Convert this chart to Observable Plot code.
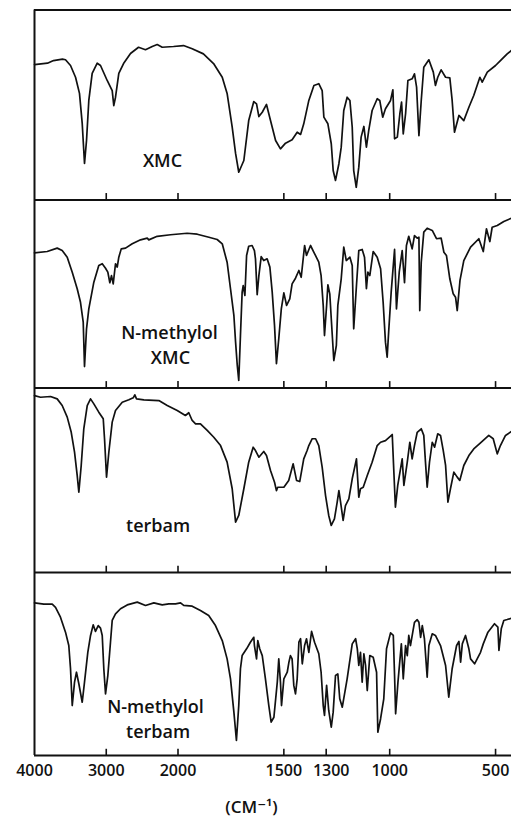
<!DOCTYPE html>
<html><head><meta charset="utf-8">
<script src="https://cdn.jsdelivr.net/npm/d3@7"></script>
<script src="https://cdn.jsdelivr.net/npm/@observablehq/plot@0.6"></script>
<style>body{margin:0;background:#fff;}</style>
</head><body><div id="chart"></div>
<script>
const panels = ["XMC", "N-methylol XMC", "terbam", "N-methylol terbam"];

// [wavenumber (cm-1), transmittance (% of panel height)]
const xmc = [[4000,71.3],[3819,72.0],[3735,73.4],[3610,74.1],[3568,73.8],[3498,70.8],[3428,64.6],[3373,56.1],[3335,40.3],[3303,19.2],[3275,31.3],[3243,52.4],[3196,66.6],[3126,72.0],[3080,70.8],[2987,62.9],[2917,57.6],[2895,49.7],[2871,54.1],[2825,66.6],[2759,71.8],[2662,77.1],[2550,80.4],[2453,79.1],[2359,80.8],[2290,81.8],[2220,80.4],[2062,80.8],[1974,81.3],[1933,79.6],[1880,76.9],[1832,71.8],[1791,64.6],[1768,56.1],[1744,38.3],[1728,24.5],[1713,14.6],[1689,20.8],[1666,41.8],[1642,51.8],[1629,50.6],[1618,43.9],[1602,46.2],[1582,50.3],[1563,41.8],[1539,31.3],[1516,26.9],[1492,29.9],[1461,31.7],[1437,35.7],[1421,34.5],[1406,40.1],[1382,52.4],[1358,60.3],[1335,61.2],[1319,57.6],[1311,43.6],[1292,40.1],[1276,29.6],[1267,15.5],[1256,10.3],[1240,19.1],[1229,27.8],[1217,47.1],[1201,54.1],[1188,52.4],[1177,38.3],[1170,15.5],[1158,6.7],[1146,17.3],[1135,33.1],[1122,38.7],[1110,27.8],[1099,36.6],[1083,47.1],[1059,53.3],[1047,52.4],[1033,43.6],[1020,48.0],[996,52.4],[985,58.0],[977,32.2],[964,33.1],[952,45.4],[944,51.5],[936,34.8],[925,45.4],[914,62.9],[894,63.8],[883,66.4],[873,59.4],[862,33.9],[851,52.4],[839,69.9],[815,73.8],[794,67.3],[784,60.3],[773,64.6],[757,68.5],[736,64.6],[716,64.3],[705,52.4],[694,35.7],[673,44.5],[650,41.8],[626,48.8],[603,55.0],[574,64.6],[563,62.0],[539,67.3],[500,70.8],[477,73.4],[445,76.9],[425,78.7],[405,80.5]];

const nMethylolXmc = [[4000,71.9],[3823,72.6],[3684,74.4],[3614,73.1],[3544,69.6],[3474,61.6],[3405,52.8],[3359,45.6],[3321,35.0],[3303,11.4],[3275,31.5],[3243,42.1],[3173,56.3],[3104,65.2],[3056,66.1],[3010,63.7],[2978,61.6],[2950,56.0],[2927,59.8],[2903,55.4],[2871,66.1],[2847,64.3],[2825,69.6],[2791,74.0],[2731,74.4],[2638,76.7],[2522,78.8],[2429,79.7],[2407,78.8],[2290,80.7],[2104,81.5],[1957,82.3],[1909,81.8],[1854,80.2],[1815,79.0],[1791,76.7],[1768,66.9],[1752,52.8],[1736,38.6],[1728,24.4],[1720,12.0],[1713,4.0],[1705,27.9],[1697,51.0],[1692,54.5],[1684,49.2],[1676,70.5],[1666,75.4],[1650,75.8],[1639,73.1],[1634,68.7],[1626,49.6],[1618,59.8],[1607,69.9],[1595,67.8],[1579,68.7],[1566,64.3],[1555,51.0],[1544,33.2],[1535,12.9],[1524,26.2],[1512,42.1],[1500,50.6],[1487,43.9],[1472,47.4],[1461,55.4],[1445,58.4],[1429,62.5],[1418,58.9],[1402,75.8],[1393,70.5],[1374,75.8],[1358,72.2],[1335,66.9],[1324,59.8],[1314,43.9],[1308,27.9],[1298,43.9],[1292,54.9],[1283,50.1],[1276,36.8],[1264,14.6],[1252,22.6],[1245,43.9],[1229,58.1],[1217,74.9],[1205,67.8],[1188,69.6],[1177,65.2],[1170,31.5],[1157,54.5],[1146,73.1],[1130,73.7],[1119,69.6],[1110,52.8],[1103,61.6],[1094,59.8],[1078,72.6],[1059,69.6],[1043,63.4],[1031,45.6],[1020,24.4],[1012,16.4],[1004,31.5],[993,51.0],[977,73.7],[968,42.1],[955,61.6],[941,73.1],[930,56.0],[921,75.8],[910,80.7],[894,74.0],[883,81.1],[870,79.7],[862,80.2],[858,41.2],[851,66.9],[839,82.9],[823,85.0],[799,83.8],[779,79.4],[757,79.7],[744,72.2],[732,70.5],[716,58.1],[700,50.1],[689,48.3],[681,41.2],[668,57.2],[650,67.8],[618,74.9],[579,79.4],[558,72.6],[543,84.7],[527,77.9],[516,85.5],[492,86.4],[461,88.6],[425,90.3],[405,91.2]];

const terbam = [[4000,95.9],[3916,95.0],[3777,95.4],[3684,94.1],[3614,90.5],[3544,84.2],[3488,76.0],[3442,65.2],[3405,52.6],[3382,43.5],[3349,58.0],[3313,77.9],[3265,90.5],[3219,94.1],[3173,91.4],[3104,86.9],[3042,83.3],[3024,72.5],[2996,51.7],[2964,65.2],[2917,81.5],[2871,87.8],[2777,92.3],[2685,93.6],[2624,94.7],[2602,96.3],[2578,94.1],[2476,93.6],[2267,93.2],[2150,90.5],[2011,87.8],[1965,85.1],[1949,86.6],[1933,82.4],[1917,80.6],[1894,80.6],[1862,77.0],[1831,73.3],[1799,68.8],[1768,59.8],[1744,45.4],[1728,27.3],[1713,30.9],[1689,45.4],[1666,59.8],[1645,67.9],[1634,66.1],[1618,62.5],[1595,65.6],[1582,63.4],[1563,55.3],[1544,48.9],[1535,44.4],[1529,46.2],[1500,46.2],[1477,49.9],[1456,58.9],[1440,49.9],[1425,49.3],[1406,61.6],[1390,66.1],[1382,68.8],[1366,72.5],[1350,72.5],[1335,68.8],[1319,57.1],[1303,41.7],[1288,30.9],[1276,25.5],[1261,29.1],[1248,38.1],[1240,44.4],[1232,38.1],[1220,28.2],[1209,36.3],[1193,39.9],[1177,50.8],[1157,61.6],[1146,40.8],[1138,45.4],[1125,46.2],[1106,52.6],[1083,59.8],[1059,68.8],[1043,70.6],[1020,71.5],[996,73.9],[988,74.8],[981,56.2],[973,35.4],[962,47.2],[941,61.6],[933,47.2],[917,59.8],[905,70.6],[894,61.6],[883,68.8],[870,76.0],[851,77.9],[839,74.3],[831,59.8],[823,46.2],[812,59.8],[799,70.6],[788,67.9],[773,75.2],[760,74.3],[747,66.1],[736,58.0],[725,38.1],[713,45.4],[697,54.4],[681,51.7],[669,49.9],[650,58.0],[626,63.4],[603,67.0],[571,70.3],[532,74.3],[511,72.5],[492,64.3],[477,68.8],[453,74.3],[425,76.4],[405,77.5]];

const nMethylolTerbam = [[4000,83.4],[3870,82.7],[3753,82.7],[3707,81.0],[3638,75.6],[3568,67.4],[3522,60.1],[3498,47.4],[3474,27.3],[3442,40.1],[3415,45.5],[3382,39.2],[3335,29.1],[3303,40.1],[3257,56.4],[3219,65.6],[3182,71.4],[3150,67.8],[3112,71.0],[3080,69.6],[3056,65.6],[3034,47.4],[3010,33.7],[2978,43.7],[2941,61.9],[2917,73.8],[2871,77.4],[2801,80.2],[2708,82.3],[2568,83.8],[2453,82.0],[2337,83.4],[2220,82.3],[2128,82.9],[2034,82.9],[1988,83.4],[1973,82.0],[1933,81.6],[1894,79.2],[1855,76.5],[1823,71.0],[1791,62.8],[1768,52.8],[1752,41.9],[1736,23.7],[1724,8.2],[1713,27.3],[1705,47.4],[1697,54.6],[1676,58.3],[1658,61.9],[1642,64.6],[1639,60.1],[1629,52.8],[1623,62.8],[1614,58.3],[1602,54.6],[1587,41.9],[1571,27.3],[1560,18.2],[1547,20.9],[1531,40.1],[1524,52.8],[1516,40.1],[1511,27.3],[1500,41.9],[1484,45.5],[1476,51.0],[1469,54.6],[1461,52.8],[1453,38.3],[1445,33.7],[1437,41.9],[1429,61.9],[1421,63.8],[1413,50.1],[1402,60.1],[1393,63.8],[1382,56.4],[1369,67.8],[1355,61.9],[1335,55.6],[1324,45.5],[1314,27.3],[1308,21.9],[1298,38.3],[1288,24.6],[1276,15.5],[1267,23.7],[1256,43.7],[1245,44.6],[1236,31.0],[1224,26.4],[1201,41.9],[1177,61.0],[1161,63.8],[1153,58.3],[1146,49.2],[1138,56.4],[1130,40.1],[1122,55.6],[1114,49.2],[1106,35.5],[1094,54.6],[1078,53.7],[1062,45.5],[1056,12.7],[1043,20.1],[1028,31.0],[1015,58.3],[996,67.0],[983,65.6],[977,43.7],[972,22.8],[961,40.1],[945,61.0],[936,41.9],[925,60.1],[917,54.6],[910,65.6],[902,60.1],[891,67.4],[883,72.8],[870,74.2],[862,72.8],[854,64.6],[846,71.0],[836,63.8],[823,42.8],[815,60.1],[799,66.5],[784,65.6],[760,60.1],[736,49.2],[721,31.9],[705,47.4],[684,60.1],[673,62.3],[665,51.0],[657,61.0],[642,65.6],[626,58.3],[618,52.8],[599,50.1],[571,56.4],[558,61.0],[536,67.4],[505,72.0],[489,70.1],[484,57.4],[473,69.2],[461,73.8],[445,74.3],[425,75.0],[405,75.6]];

const innerTicks = [3000, 2000, 1500, 1300, 1000, 500];
const axisTicks = [4000, 3000, 2000, 1500, 1300, 1000, 500];
const axisTitle = "(CM⁻¹)";

const spectra = [xmc, nMethylolXmc, terbam, nMethylolTerbam];
// panel 0 is top; stacked levels: bottom of panel i = 3 - i
const rows = spectra.flatMap((s, i) => s.map(([wn, t]) => ({panel: panels[i], base: 3 - i, wn, t})));
const levels = [0, 1, 2, 3];
const tickRows = levels.flatMap(l => innerTicks.map(wn => ({l, wn})));
const ink = "#111";
const font = "'Open Sans', 'DejaVu Sans', sans-serif";

// chart-paper scale change at 2000 cm-1 (compressed above, expanded below)
const xPaper = wn => wn >= 2000 ? (4000 - wn) * 0.07175 : 143.5 + (2000 - wn) * 0.2117;
// four stacked panels of slightly unequal printed height
const yPaper = d3.scaleLinear().domain([0, 1, 2, 3, 4]).range([0, 183, 367.5, 555.5, 745.5]);

const txt = {lineAnchor: "bottom", fontSize: 18, fontWeight: 600, fill: ink, letterSpacing: 1.5};
const num = {y: 0, text: d => String(d), lineAnchor: "top", dy: 9, fontSize: 16, fontWeight: 600, fill: ink, letterSpacing: 1.5};

const chart = Plot.plot({
  width: 511, height: 816,
  marginLeft: 34, marginRight: 43, marginTop: 9, marginBottom: 61,
  style: {background: "#fff", fontFamily: font, color: ink},
  x: {transform: xPaper, domain: [0, xPaper(400)], range: [34, 34 + xPaper(400)], axis: null},
  y: {transform: v => yPaper(v), domain: [0, 745.5], range: [755, 9.5], axis: null},
  marks: [
    Plot.ruleY([0, 1, 2, 3, 4], {x1: 4000, x2: 400, stroke: ink, strokeWidth: 2}),
    Plot.ruleX([4000], {y1: 0, y2: 4, stroke: ink, strokeWidth: 2}),
    Plot.ruleX(tickRows, {x: "wn", y1: "l", y2: d => d.l + 0.034, stroke: ink, strokeWidth: 1.6}),
    Plot.line(rows, {x: "wn", y: d => d.base + d.t / 100, z: "panel", stroke: ink, strokeWidth: 1.7, strokeLinejoin: "round"}),
    Plot.text(axisTicks.filter(d => d !== 1300), {...num, x: d => d}),
    Plot.text(axisTicks.filter(d => d === 1300), {...num, x: d => d, dx: 5}),
    Plot.text([axisTitle], {text: d => d, frameAnchor: "bottom", dy: 57, lineAnchor: "bottom", fontSize: 17, fontWeight: 600, fill: ink, letterSpacing: 3}),
    Plot.text(["XMC"], {...txt, text: d => d, x: 2216, y: 3.173, letterSpacing: 2}),
    Plot.text(["N-methylol"], {...txt, text: d => d, x: 2118, y: 2.262}),
    Plot.text(["XMC"], {...txt, text: d => d, x: 2105, y: 2.13, letterSpacing: 2}),
    Plot.text(["terbam"], {...txt, text: d => d, x: 2278, y: 1.218}),
    Plot.text(["N-methylol"], {...txt, text: d => d, x: 2313, y: 0.234}),
    Plot.text(["terbam"], {...txt, text: d => d, x: 2278, y: 0.093})
  ]
});
document.getElementById("chart").append(chart);
</script>
</body></html>
